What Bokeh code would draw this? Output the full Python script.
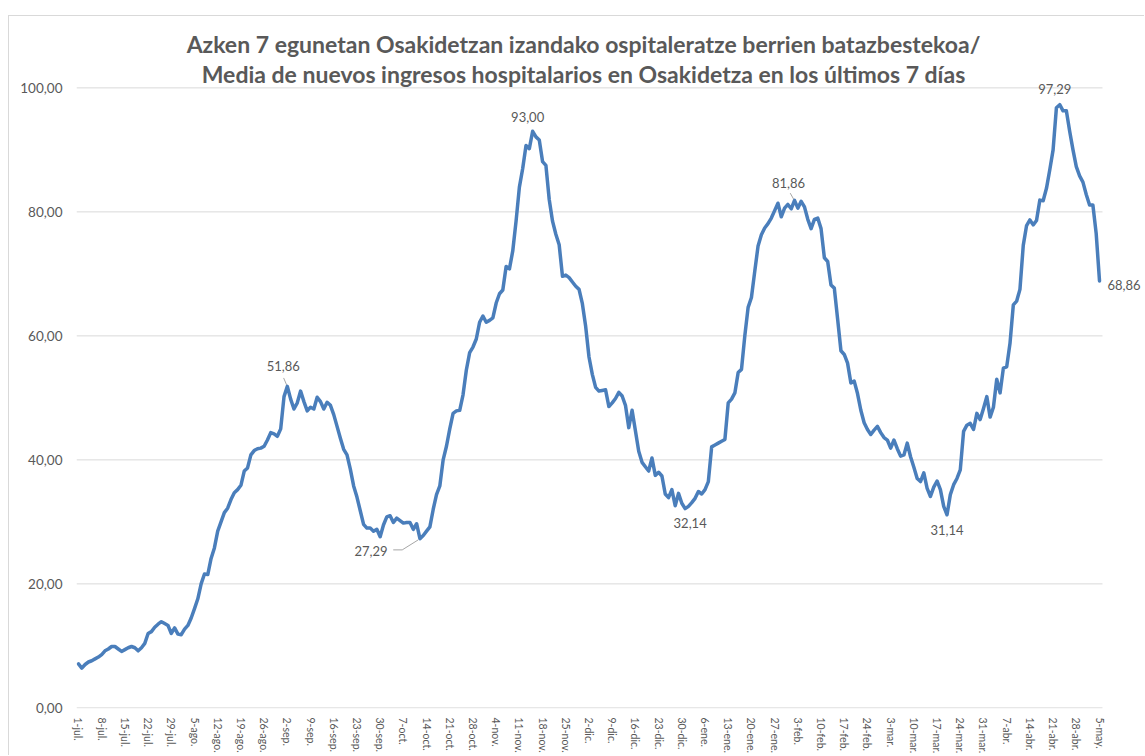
from bokeh.plotting import figure
from bokeh.models import FixedTicker, CustomJSTickFormatter, Label, Range1d
from bokeh.embed import file_html
from bokeh.resources import INLINE

# ---------------- data ----------------
# 7-day average of new hospital admissions, one value per day, 1-jul-2020 .. 5-may-2021
values = [
    7.1, 6.4, 7.0, 7.4, 7.6, 7.9, 8.2,
    8.6, 9.2, 9.5, 9.9, 9.9, 9.5, 9.1,
    9.4, 9.7, 9.9, 9.7, 9.2, 9.7, 10.4,
    12.0, 12.3, 13.0, 13.5, 13.9, 13.6, 13.3,
    12.0, 12.9, 11.9, 11.8, 12.7, 13.3, 14.5,
    16.0, 17.6, 20.0, 21.6, 21.5, 24.1, 25.8,
    28.5, 30.0, 31.5, 32.2, 33.6, 34.7, 35.2,
    35.9, 38.2, 38.7, 40.8, 41.5, 41.8, 41.9,
    42.2, 43.2, 44.4, 44.2, 43.8, 45.0, 50.2,
    51.86, 49.8, 48.2, 49.2, 51.1, 49.4, 47.9,
    48.5, 48.2, 50.1, 49.4, 48.2, 49.3, 48.8,
    47.3, 45.4, 43.5, 41.7, 40.8, 38.5, 35.8,
    34.0, 31.8, 29.6, 29.0, 29.0, 28.5, 28.8,
    27.6, 29.5, 30.8, 31.0, 29.9, 30.6, 30.2,
    29.8, 29.9, 29.9, 28.8, 29.7, 27.29, 27.8,
    28.5, 29.2, 32.0, 34.4, 35.8, 40.0, 42.2,
    45.0, 47.5, 47.9, 48.0, 50.5, 54.5, 57.3,
    58.2, 59.5, 62.2, 63.2, 62.2, 62.5, 62.9,
    65.3, 66.8, 67.4, 71.2, 70.8, 73.7, 78.5,
    84.0, 87.0, 90.7, 90.2, 93.00, 92.1, 91.6,
    88.1, 87.5, 82.0, 78.5, 76.4, 74.7, 69.6,
    69.8, 69.4, 68.7, 68.0, 67.5, 65.2, 61.5,
    56.6, 53.8, 51.7, 51.1, 51.2, 51.3, 48.6,
    49.2, 49.9, 50.9, 50.3, 48.8, 45.2, 48.0,
    44.7, 41.4, 39.6, 38.9, 38.2, 40.3, 37.5,
    38.0, 37.4, 34.5, 33.9, 35.2, 32.6, 34.6,
    33.0, 32.14, 32.5, 33.1, 33.8, 34.9, 34.5,
    35.2, 36.5, 42.1, 42.4, 42.7, 43.0, 43.3,
    49.2, 49.8, 50.8, 54.1, 54.6, 60.0, 64.6,
    66.2, 70.4, 74.5, 76.3, 77.4, 78.1, 79.0,
    80.2, 81.4, 79.2, 80.6, 81.2, 80.5, 81.86,
    80.6, 81.7, 80.8, 78.8, 77.3, 78.8, 79.0,
    77.3, 72.6, 72.0, 68.2, 67.7, 62.7, 57.6,
    57.0, 55.6, 52.4, 52.7, 50.7, 48.0, 46.0,
    44.9, 44.1, 44.8, 45.4, 44.4, 43.6, 43.2,
    41.9, 43.2, 41.8, 40.6, 40.8, 42.7, 40.5,
    38.8, 37.0, 36.5, 37.9, 35.4, 34.1, 35.6,
    36.6, 35.2, 32.5, 31.14, 34.4, 36.0, 37.0,
    38.4, 44.6, 45.6, 45.9, 44.9, 47.5, 46.5,
    48.3, 50.2, 46.9, 48.5, 53.0, 50.8, 54.8,
    55.0, 58.8, 65.0, 65.6, 67.5, 74.6, 77.8,
    78.7, 77.9, 78.6, 81.9, 81.8, 83.8, 86.8,
    90.0, 96.8, 97.29, 96.3, 96.3, 93.0, 90.0,
    87.3, 85.8, 84.8, 82.8, 81.1, 81.1, 76.5,
    68.86,
]

tick_labels = [
    "1-jul.", "8-jul.", "15-jul.", "22-jul.", "29-jul.",
    "5-ago.", "12-ago.", "19-ago.", "26-ago.",
    "2-sep.", "9-sep.", "16-sep.", "23-sep.", "30-sep.",
    "7-oct.", "14-oct.", "21-oct.", "28-oct.",
    "4-nov.", "11-nov.", "18-nov.", "25-nov.",
    "2-dic.", "9-dic.", "16-dic.", "23-dic.", "30-dic.",
    "6-ene.", "13-ene.", "20-ene.", "27-ene.",
    "3-feb.", "10-feb.", "17-feb.", "24-feb.",
    "3-mar.", "10-mar.", "17-mar.", "24-mar.", "31-mar.",
    "7-abr.", "14-abr.", "21-abr.", "28-abr.",
    "5-may.",
]

y_ticks = [0, 20, 40, 60, 80, 100]

title_line1 = "Azken 7 egunetan Osakidetzan izandako ospitaleratze berrien batazbestekoa/"
title_line2 = "Media de nuevos ingresos hospitalarios en Osakidetza en los últimos 7 días"

# days whose value is written on the chart
annotated_days = [63, 103, 137, 183, 216, 262, 296, 308]

# ---------------- style / layout ----------------
LINE_COLOR = "#4A7EBB"
TEXT_COLOR = "#595959"
GRID_COLOR = "#D9D9D9"
FONT = "Lato"

PX_PER_DAY = 3.315
PX_PER_UNIT = 6.2
# plot-area extent (in axis units) used for the gridlines
AREA_X0, AREA_X1 = -0.6, 308.9

# pixel offsets of value labels relative to their points (dx, dy up, align)
label_style = {
    63: (-4, 20, "center"),
    103: (-49, -12, "center"),
    137: (-5, 14, "center"),
    183: (5, -14, "center"),
    216: (-6, 17, "center"),
    262: (0, -15, "center"),
    296: (-5, 16, "center"),
    308: (8, -4, "left"),
}
# leader lines (pixel offsets from the point)
leader_style = {
    63: [(-3.7, 8.4), (-0.7, 1.4)],
    103: [(-26.7, -11.2), (-17.7, -11.2), (-1.7, -1.2)],
    216: [(-4.3, 7.2), (-0.9, 1.2)],
}

days = list(range(len(values)))

FIG_W, FIG_H = 1136, 740
BORDER_L, BORDER_B = 67, 48
frame_w = FIG_W - BORDER_L
frame_h = FIG_H - BORDER_B
y0 = -0.1
x0 = -0.6

p = figure(
    width=FIG_W, height=FIG_H, title=None,
    output_backend="svg", toolbar_location=None,
    x_range=Range1d(x0, x0 + frame_w / PX_PER_DAY),
    y_range=Range1d(y0, y0 + frame_h / PX_PER_UNIT),
    min_border_left=BORDER_L, min_border_right=0, min_border_top=0, min_border_bottom=BORDER_B,
    margin=(15, 0, 0, 8),
    styles={"border-top": "1px solid #D9D9D9", "border-left": "1px solid #D9D9D9"},
)
p.outline_line_color = None
p.background_fill_color = "white"
p.border_fill_color = "white"

# gridlines over the plot area only
p.segment(x0=[AREA_X0] * len(y_ticks), y0=y_ticks, x1=[AREA_X1] * len(y_ticks), y1=y_ticks,
          line_color=GRID_COLOR, line_width=1)

p.line(days, values, line_color=LINE_COLOR, line_width=3.5, line_join="round", line_cap="round")

# axes
p.xaxis.ticker = FixedTicker(ticks=list(range(0, len(values), 7)))
p.xaxis.major_label_overrides = {d: lab for d, lab in zip(range(0, len(values), 7), tick_labels)}
p.xaxis.major_label_orientation = "vertical"
p.xaxis.major_label_text_font = FONT
p.xaxis.major_label_text_font_size = "10.5px"
p.xaxis.major_label_text_color = TEXT_COLOR
p.xaxis.major_label_standoff = 9
p.xaxis.major_tick_line_color = None
p.xaxis.minor_tick_line_color = None
p.xaxis.major_tick_out = 0
p.xaxis.major_tick_in = 0
p.xaxis.axis_line_color = None

p.yaxis.ticker = FixedTicker(ticks=y_ticks)
p.yaxis.formatter = CustomJSTickFormatter(code="return tick.toFixed(2).replace('.', ',');")
p.yaxis.major_label_text_font = FONT
p.yaxis.major_label_text_font_size = "13.5px"
p.yaxis.major_label_text_color = TEXT_COLOR
p.yaxis.major_label_standoff = 14
p.yaxis.major_tick_line_color = None
p.yaxis.minor_tick_line_color = None
p.yaxis.major_tick_out = 0
p.yaxis.major_tick_in = 0
p.yaxis.axis_line_color = None

p.xgrid.grid_line_color = None
p.ygrid.grid_line_color = None

# leader lines
for d, pts in leader_style.items():
    xs = [d + dx / PX_PER_DAY for dx, dy in pts]
    ys = [values[d] + dy / PX_PER_UNIT for dx, dy in pts]
    p.line(xs, ys, line_color="#A6A6A6", line_width=1)

# value labels
for d in annotated_days:
    dx, dy, align = label_style[d]
    txt = f"{values[d]:.2f}".replace(".", ",")
    p.add_layout(Label(
        x=d, y=values[d], x_offset=dx, y_offset=dy, text=txt,
        text_font=FONT, text_font_size="13px", text_color=TEXT_COLOR,
        text_align=align, text_baseline="middle",
    ))

# title (two lines)
x_mid = (AREA_X0 + AREA_X1) / 2
for line, off in ((title_line1, 44), (title_line2, 14)):
    p.add_layout(Label(
        x=x_mid, y=100, x_offset=-6, y_offset=off, text=line,
        text_font=FONT, text_font_size="23px", text_font_style="bold",
        text_color=TEXT_COLOR, text_align="center", text_baseline="middle",
    ))

open("out.html", "w").write(file_html(p, INLINE))
